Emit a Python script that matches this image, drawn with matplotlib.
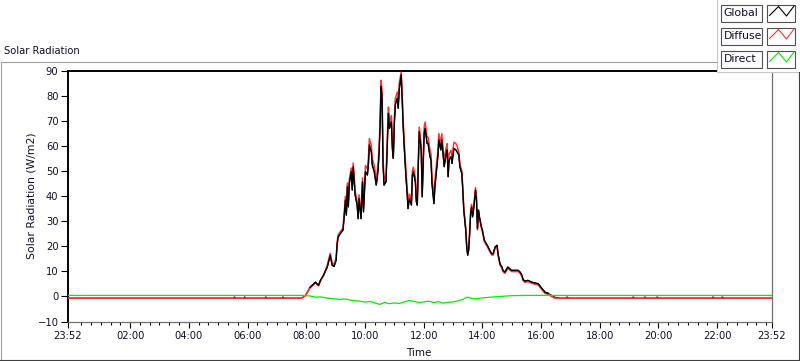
import matplotlib
matplotlib.use("Agg")
import numpy as np
import matplotlib.pyplot as plt
from matplotlib.patches import Rectangle
from matplotlib.ticker import FixedLocator

# time in minutes after midnight (the day runs 23:52 -> 23:52)
global_t = [-8, 331, 333, 337, 352, 354, 358, 395, 397, 401, 430, 432, 436, 470,
            478, 488, 499, 505, 509, 515, 523, 529, 533, 537, 541, 543, 545, 552,
            555, 557, 558, 560, 562, 564, 566, 568, 572, 574, 576, 580, 584, 586,
            588, 592, 595, 597, 601, 605, 607, 609, 613, 615, 619, 623, 625, 627,
            629, 631, 633, 635, 636, 637, 639, 643, 645, 647, 648, 650, 654, 656,
            658, 660, 662, 666, 668, 670, 674, 676, 678, 680, 682, 684, 686, 688,
            691, 695, 697, 699, 703, 705, 707, 709, 711, 715, 717, 719, 721, 723,
            727, 729, 733, 735, 737, 741, 743, 747, 749, 751, 755, 757, 762, 766,
            768, 770, 772, 776, 778, 780, 782, 786, 788, 792, 794, 798, 800, 802,
            804, 806, 808, 810, 812, 814, 816, 818, 820, 822, 826, 828, 830, 832,
            834, 838, 840, 844, 848, 850, 855, 859, 862, 866, 870, 872, 876, 880,
            882, 886, 890, 892, 896, 900, 907, 913, 917, 921, 923, 927, 933, 941,
            948, 954, 962, 968, 974, 982, 988, 1000, 1011, 1013, 1017, 1146, 1148,
            1152, 1170, 1172, 1176, 1195, 1197, 1201, 1309, 1311, 1315, 1328, 1330,
            1334, 1432]

global_v = [-0.7, -0.7, -0.2, -0.7, -0.7, -0.2, -0.7, -0.7, -0.2, -0.7, -0.7, -0.2, -0.7, -0.7,
            0.4, 3.7, 5.7, 4.4, 6.4, 8.4, 11.7, 16.4, 12.4, 12.0, 14.4, 20.4, 23.7, 25.7,
            26.4, 30.4, 33.0, 38.4, 32.4, 43.7, 35.7, 45.0, 49.7, 42.4, 51.7, 40.4, 36.4, 31.0,
            39.0, 31.0, 45.7, 33.7, 49.7, 48.4, 52.4, 60.4, 57.7, 52.4, 49.7, 44.4, 47.0, 51.0,
            57.7, 68.4, 83.7, 79.0, 65.7, 52.4, 44.4, 45.7, 56.4, 68.4, 73.0, 67.0, 69.7, 59.0,
            55.0, 68.4, 76.4, 79.0, 75.0, 82.4, 88.4, 79.0, 68.4, 60.4, 53.7, 47.0, 41.7, 35.0,
            39.0, 36.4, 48.4, 49.7, 45.7, 37.7, 36.4, 52.4, 65.7, 58.4, 39.7, 51.7, 65.0, 67.0,
            61.0, 61.0, 55.7, 54.4, 45.0, 37.0, 43.7, 51.7, 55.7, 62.4, 58.4, 62.4, 51.7, 57.0,
            58.4, 47.7, 54.4, 55.7, 53.0, 56.4, 59.0, 58.4, 57.7, 56.4, 51.7, 49.0, 42.4, 34.4,
            30.4, 26.4, 19.7, 16.4, 18.4, 25.0, 33.0, 35.7, 31.7, 34.4, 42.4, 38.4, 27.0, 34.4,
            31.7, 27.7, 26.4, 22.4, 21.0, 20.4, 18.4, 17.0, 17.0, 19.7, 20.4, 17.0, 13.0, 11.7,
            10.4, 9.7, 11.0, 11.7, 11.0, 10.4, 10.4, 10.4, 9.7, 8.4, 6.8, 6.1, 6.4, 5.7,
            5.3, 5.1, 3.1, 1.7, 1.3, 0.4, -0.3, -0.7, -0.7, -0.2, -0.7, -0.7, -0.2,
            -0.7, -0.7, -0.2, -0.7, -0.7, -0.2, -0.7, -0.7, -0.2, -0.7, -0.7, -0.2,
            -0.7, -0.7]

diffuse_v = [-0.7, -0.7, -0.7, -0.7, -0.7, -0.7, -0.7, -0.7, -0.7, -0.7, -0.7, -0.7, -0.7, -0.7,
             0.2, 3.4, 5.4, 4.2, 6.1, 8.1, 12.5, 17.2, 13.2, 12.8, 15.2, 21.2, 24.5, 26.5,
             27.2, 31.9, 34.5, 39.9, 33.9, 45.2, 37.2, 46.5, 51.2, 43.9, 53.2, 41.9, 37.9, 32.5,
             40.5, 32.5, 47.2, 35.2, 52.2, 50.9, 54.9, 62.9, 60.2, 54.9, 52.2, 46.9, 49.5, 53.5,
             60.2, 70.9, 86.2, 81.5, 68.2, 54.9, 46.9, 48.2, 58.9, 70.9, 75.5, 69.5, 72.2, 61.5,
             57.5, 70.9, 78.9, 81.5, 77.5, 84.9, 89.4, 81.5, 70.9, 62.9, 56.2, 49.5, 44.2, 37.5,
             40.8, 38.2, 50.2, 51.5, 47.5, 39.5, 38.2, 54.2, 67.5, 60.2, 41.5, 53.5, 67.5, 69.5,
             63.5, 63.5, 58.2, 56.9, 47.5, 39.5, 46.2, 54.2, 58.2, 64.9, 60.9, 64.9, 54.2, 59.5,
             60.9, 50.2, 56.9, 58.2, 55.5, 58.9, 61.5, 60.9, 60.2, 57.4, 52.7, 50.0, 43.4, 35.4,
             31.4, 27.4, 20.7, 17.4, 19.4, 26.0, 34.0, 36.7, 32.7, 35.4, 43.4, 39.4, 26.5, 33.9,
             31.2, 27.2, 25.9, 21.9, 20.5, 19.9, 17.9, 16.5, 16.5, 19.2, 19.9, 16.5, 12.5, 11.2,
             9.9, 9.2, 10.5, 11.2, 10.5, 9.9, 9.9, 9.9, 9.2, 7.9, 6.3, 5.6, 5.9, 5.2,
             4.8, 4.6, 2.6, 1.2, 0.8, -0.1, -0.7, -0.7, -0.7, -0.7, -0.7, -0.7, -0.7,
             -0.7, -0.7, -0.7, -0.7, -0.7, -0.7, -0.7, -0.7, -0.7, -0.7, -0.7, -0.7,
             -0.7, -0.7]

direct_t = [-8, 478, 490, 500, 510, 520, 530, 540, 550, 560, 570, 580, 590, 600,
            610, 620, 630, 640, 650, 660, 670, 680, 690, 700, 710, 720, 730, 740,
            750, 760, 770, 780, 790, 800, 808, 815, 825, 835, 845, 856, 870, 885,
            900, 930, 1432]
direct_v = [0.4, 0.4, 0.1, -0.3, -0.2, -0.6, -0.8, -1.0, -1.2, -1.0, -1.5, -1.7, -1.9, -2.3,
            -2.0, -2.6, -3.2, -2.4, -2.9, -2.6, -2.8, -2.2, -1.6, -2.0, -2.4, -2.2, -1.9, -2.4,
            -2.1, -2.7, -2.3, -2.2, -1.8, -1.2, -0.3, -0.6, -1.0, -0.7, -0.5, -0.3, -0.1, 0.1,
            0.3, 0.4, 0.4]

series_names = ["Global", "Diffuse", "Direct"]
series_colors = ["black", "#ff3333", "#00ee00"]

xtick_pos = [-8, 120, 240, 360, 480, 600, 720, 840, 960, 1080, 1200, 1320, 1432]
xtick_labels = ["23:52", "02:00", "04:00", "06:00", "08:00", "10:00", "12:00",
                "14:00", "16:00", "18:00", "20:00", "22:00", "23:52"]
yticks = list(range(-10, 91, 10))

W, H = 800, 361
txt = "#10102a"

fig = plt.figure(figsize=(W / 100, H / 100), dpi=100)


def fx(x):
    return x / W


def fy(y):
    return 1 - y / H


# sunken outer frame
fig.add_artist(plt.Line2D([fx(0.5), fx(717)], [fy(61.5), fy(61.5)], color="#a0a0a0", lw=0.8))
fig.add_artist(plt.Line2D([fx(0.5), fx(0.5)], [fy(61.5), fy(360)], color="#a0a0a0", lw=0.8))
fig.add_artist(plt.Line2D([fx(0), fx(800)], [fy(360), fy(360)], color="#404040", lw=0.8))
fig.add_artist(plt.Line2D([fx(798.5), fx(798.5)], [fy(72), fy(360)], color="#404040", lw=0.8))

fig.text(fx(4), fy(51), "Solar Radiation", fontsize=7.2, color=txt, va="center", ha="left")

ax = fig.add_axes([fx(67.5), fy(321.5), (772 - 67.5) / W, (321.5 - 70.7) / H])
ax.plot(global_t, global_v, color=series_colors[0], lw=0.8, zorder=2)
ax.plot(global_t, diffuse_v, color=series_colors[1], lw=1.1, zorder=3)
# daytime part of Global sits above Diffuse, as in the original display
gv = np.array(global_v)
ax.plot(global_t, np.ma.masked_where(gv <= 0.5, gv), color=series_colors[0], lw=1.0, zorder=4)
ax.plot(direct_t, direct_v, color=series_colors[2], lw=0.9, zorder=5)

ax.set_xlim(-8, 1432)
ax.set_ylim(-10, 90)
ax.xaxis.set_major_locator(FixedLocator(xtick_pos))
ax.set_xticklabels(xtick_labels)
ax.xaxis.set_minor_locator(FixedLocator([m for m in range(0, 1440, 20) if m % 120]))
ax.set_yticks(yticks)
ax.tick_params(axis="x", which="major", length=4, width=0.8, pad=2.5,
               labelsize=7.2, labelcolor=txt)
ax.tick_params(axis="x", which="minor", length=2.5, width=0.8)
ax.tick_params(axis="y", length=5, width=0.8, pad=1.5, labelsize=7.2, labelcolor=txt)
for s in ["top", "left"]:
    ax.spines[s].set_color("black")
    ax.spines[s].set_linewidth(1.4)
for s in ["bottom", "right"]:
    ax.spines[s].set_color("#707070")
    ax.spines[s].set_linewidth(0.9)

fig.text(fx(31), fy(196), "Solar Radiation (W/m2)", rotation=90, fontsize=7.8,
         color=txt, ha="center", va="center")
fig.text(fx(419), fy(353), "Time", fontsize=7.5, color=txt, ha="center", va="center")

# legend panel in the top right corner, drawn in pixel units
lax = fig.add_axes([fx(717), fy(72), 83 / W, 72 / H])
lax.set_xlim(717, 800)
lax.set_ylim(72, 0)
lax.axis("off")
lax.add_patch(Rectangle((717, 0), 83, 72, facecolor="white", edgecolor="none", clip_on=False))
lax.plot([717.5, 717.5], [0, 71.5], color="#c8c8c8", lw=0.8, clip_on=False)
lax.plot([717.5, 800], [71.5, 71.5], color="#c8c8c8", lw=0.8, clip_on=False)
for i, (name, col) in enumerate(zip(series_names, series_colors)):
    top = 4.5 + i * 23
    lax.add_patch(Rectangle((721.5, top), 41, 17, facecolor="#fbfbfb",
                            edgecolor="#505050", lw=0.8, clip_on=False))
    lax.add_patch(Rectangle((767.5, top), 28, 17, facecolor="white",
                            edgecolor="#505050", lw=0.8, clip_on=False))
    lax.text(723.5, top + 8.5, name, fontsize=7.8, color=txt, ha="left", va="center")
    lax.plot([769.5, 778.5, 786.5, 794], [top + 11, top + 2, top + 11.5, top + 1.5],
             color=col, lw=0.8, clip_on=False)

fig.savefig("out.png", dpi=100, facecolor="white")
